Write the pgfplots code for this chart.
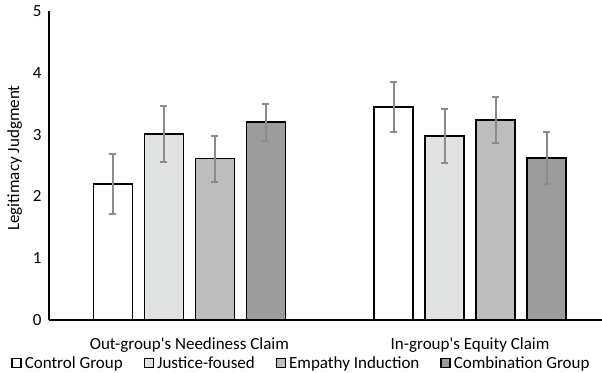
\documentclass[border=0pt]{standalone}
\usepackage{fontspec}
\setmainfont{Carlito}
\usepackage{pgfplots}
\pgfplotsset{compat=1.18}
\definecolor{cJ}{RGB}{225,227,226}
\definecolor{cE}{RGB}{189,189,189}
\definecolor{cC}{RGB}{156,156,156}
\definecolor{errgray}{RGB}{140,140,140}
\newcommand{\ff}{\fontsize{17}{20}\selectfont}
\begin{document}
\begin{tikzpicture}
\useasboundingbox (-49pt,-52pt) rectangle (553pt,320pt);
\begin{axis}[
  at={(0,0)}, anchor=south west,
  scale only axis, width=553pt, height=309pt,
  xmin=-0.5, xmax=1.47, ymin=0, ymax=5,
  ybar=12pt, bar width=39pt,
  axis x line*=bottom, axis y line*=left,
  axis line style={line width=1.4pt, black},
  major tick length=0pt,
  xtick={0,1},
  xticklabels={Out-group\textquotesingle s Neediness Claim, In-group\textquotesingle s Equity Claim},
  ytick={0,1,2,3,4,5},
  /pgf/number format/assume math mode=true,
  tick label style={font=\ff},
  xticklabel style={yshift=-14pt},
  yticklabel style={xshift=-4pt},
  every axis y label/.style={at={(axis description cs:-0.062,0.524)}, rotate=90, anchor=center, font=\ff},
  ylabel={Legitimacy Judgment},
  legend columns=4,
  legend style={draw=none, fill=none, font=\ff,
    at={(axis description cs:0.4575,-0.140)}, anchor=center,
    inner xsep=0pt, nodes={inner xsep=3pt, inner ysep=1pt},
    /tikz/every even column/.append style={column sep=18pt}},
  legend image code/.code={\draw[#1, draw=black, line width=1.3pt] (0pt,-4.5pt) rectangle (9pt,4.5pt);},
  every axis plot/.append style={draw=black, line width=1.5pt,
    /pgfplots/error bars/y dir=both, /pgfplots/error bars/y explicit,
    /pgfplots/error bars/error bar style={line width=2pt, draw=errgray},
    /pgfplots/error bars/error mark options={rotate=90, line width=2pt, mark size=3.5pt, draw=errgray}},
]
\addplot[fill=white] coordinates {(0,2.20) +- (0,0.49) (1,3.45) +- (0,0.40)};
\addplot[fill=cJ] coordinates {(0,3.01) +- (0,0.46) (1,2.98) +- (0,0.44)};
\addplot[fill=cE] coordinates {(0,2.61) +- (0,0.37) (1,3.24) +- (0,0.37)};
\addplot[fill=cC] coordinates {(0,3.20) +- (0,0.30) (1,2.62) +- (0,0.42)};
\legend{Control Group, Justice-foused, Empathy Induction, Combination Group}
\end{axis}
\end{tikzpicture}
\end{document}
